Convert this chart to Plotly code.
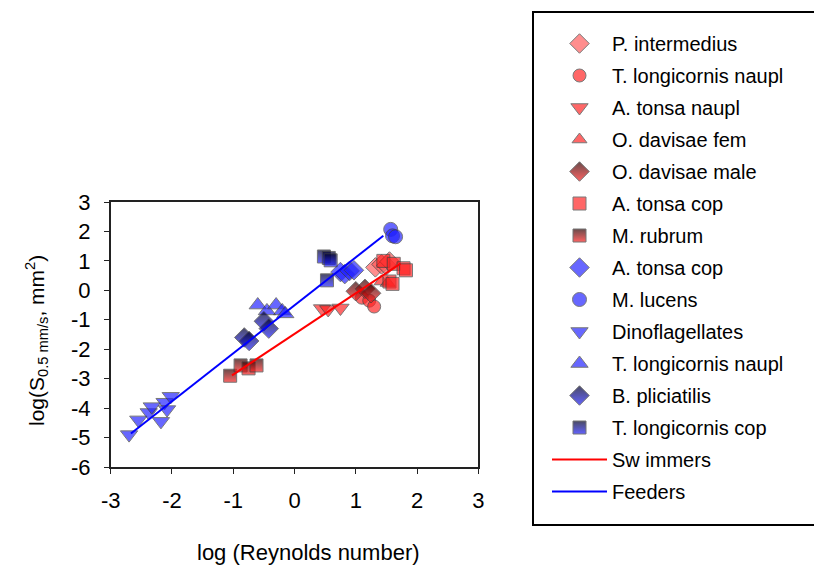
import numpy as np
import plotly.graph_objects as go

# ---- data: log10(Reynolds number) vs log10(S_0.5 mm/s, mm^2) ----
p_intermedius_x = [1.32, 1.42, 1.50, 1.55]
p_intermedius_y = [0.78, 0.88, 0.85, 0.98]

t_long_naupl_red_x = [1.10, 1.22, 1.30]
t_long_naupl_red_y = [-0.25, -0.35, -0.55]

a_tonsa_naupl_x = [0.45, 0.55, 0.75]
a_tonsa_naupl_y = [-0.62, -0.65, -0.60]

o_davisae_fem_x = [1.42, 1.52]
o_davisae_fem_y = [0.30, 0.25]

o_davisae_male_x = [1.00, 1.15, 1.25]
o_davisae_male_y = [-0.03, 0.05, -0.10]

a_tonsa_cop_red_x = [1.45, 1.62, 1.78, 1.82, 1.55, 1.60]
a_tonsa_cop_red_y = [1.00, 0.90, 0.75, 0.68, 0.30, 0.22]

m_rubrum_x = [-1.05, -0.88, -0.75, -0.62]
m_rubrum_y = [-2.90, -2.55, -2.65, -2.55]

a_tonsa_cop_blue_x = [0.75, 0.82, 0.90, 0.97]
a_tonsa_cop_blue_y = [0.62, 0.55, 0.66, 0.68]

m_lucens_x = [1.57, 1.60, 1.65]
m_lucens_y = [2.07, 1.85, 1.82]

dino_x = [-2.70, -2.55, -2.38, -2.33, -2.18, -2.12, -2.02, -2.08]
dino_y = [-4.90, -4.40, -4.15, -3.95, -4.45, -3.80, -3.60, -4.05]

t_long_naupl_blue_x = [-0.60, -0.45, -0.30, -0.20, -0.15]
t_long_naupl_blue_y = [-0.50, -0.70, -0.50, -0.70, -0.80]

b_plic_x = [-0.82, -0.74, -0.50, -0.42]
b_plic_y = [-1.60, -1.72, -1.05, -1.30]

t_long_cop_x = [0.48, 0.56, 0.59, 0.53]
t_long_cop_y = [1.15, 1.10, 1.02, 0.34]

# regression lines: intercept, slope, x extent
swim_a, swim_b = -1.48, 1.38
swim_x = [-1.02, 1.73]
feed_a, feed_b = -0.51, 1.63
feed_x = [-2.67, 1.45]

x_ticks = [-3, -2, -1, 0, 1, 2, 3]
x_tick_text = ["-3", "-2", "-1", "0", "1", "2", "3"]
y_ticks = [3, 2, 1, 0, -1, -2, -3, -4, -5, -6]
y_tick_text = ["3", "2", "1", "0", "-1", "-2", "-3", "-4", "-5", "-6"]

RED = "#ff2020"
BLUE = "#2020ff"
DARK_RED = "#2a0000"
DARK_BLUE = "#000022"
EDGE = "#3a3a3a"
FONT = "Arial, Liberation Sans, sans-serif"

W, H = 814, 566

fig = go.Figure()


def add_pts(name, xs, ys, symbol, color, size=14, top=None):
    # two-tone symbols: dark on top fading into the series colour at the bottom
    if top is not None:
        marker = dict(symbol=symbol, size=size, color=top, opacity=0.7,
                      line=dict(color=EDGE, width=1),
                      gradient=dict(type="vertical", color=color))
    else:
        marker = dict(symbol=symbol, size=size, color=color, opacity=0.68,
                      line=dict(color=EDGE, width=1))
    fig.add_trace(go.Scatter(x=xs, y=ys, mode="markers", name=name,
                             legendgroup=name + symbol, marker=marker))


add_pts("P. intermedius", p_intermedius_x, p_intermedius_y, "diamond", "#ff5a5a", 15)
add_pts("T. longicornis naupl", t_long_naupl_red_x, t_long_naupl_red_y, "circle", RED, 13)
add_pts("A. tonsa naupl", a_tonsa_naupl_x, a_tonsa_naupl_y, "triangle-down", RED, 15)
add_pts("O. davisae fem", o_davisae_fem_x, o_davisae_fem_y, "triangle-up", RED, 13)
add_pts("O. davisae male", o_davisae_male_x, o_davisae_male_y, "diamond", RED, 15, DARK_RED)
add_pts("A. tonsa cop", a_tonsa_cop_red_x, a_tonsa_cop_red_y, "square", RED, 13)
add_pts("M. rubrum", m_rubrum_x, m_rubrum_y, "square", RED, 13, DARK_RED)
add_pts("A. tonsa cop", a_tonsa_cop_blue_x, a_tonsa_cop_blue_y, "diamond", BLUE, 15)
add_pts("M. lucens", m_lucens_x, m_lucens_y, "circle", BLUE, 14)
add_pts("Dinoflagellates", dino_x, dino_y, "triangle-down", BLUE, 15)
add_pts("T. longicornis naupl", t_long_naupl_blue_x, t_long_naupl_blue_y, "triangle-up", BLUE, 15)
add_pts("B. pliciatilis", b_plic_x, b_plic_y, "diamond", BLUE, 15, DARK_BLUE)
add_pts("T. longicornis cop", t_long_cop_x, t_long_cop_y, "square", BLUE, 13, DARK_BLUE)

sx = np.array(swim_x)
fx = np.array(feed_x)
fig.add_trace(go.Scatter(x=sx, y=swim_a + swim_b * sx, mode="lines", name="Sw immers",
                         legendgroup="swim", line=dict(color="#ff0000", width=2)))
fig.add_trace(go.Scatter(x=fx, y=feed_a + feed_b * fx, mode="lines", name="Feeders",
                         legendgroup="feed", line=dict(color="#0000ff", width=2)))

axis_common = dict(showgrid=False, zeroline=False, showline=True, mirror=True,
                   linecolor="#222222", linewidth=1.5, ticks="outside", ticklen=5,
                   tickwidth=1, tickcolor="#222222", automargin=False,
                   tickfont=dict(family=FONT, size=22, color="black"))


def px_x(p):
    return p / W


def px_y(p):
    return (H - p) / H


fig.update_layout(
    width=W, height=H,
    margin=dict(l=0, r=0, t=0, b=0),
    paper_bgcolor="white", plot_bgcolor="white",
    xaxis=dict(range=[-3, 3], tickvals=x_ticks, ticktext=x_tick_text,
               domain=[px_x(110.7), px_x(478.3)], ticklabelstandoff=8, **axis_common),
    yaxis=dict(range=[-6, 3], tickvals=y_ticks, ticktext=y_tick_text,
               domain=[px_y(467), px_y(202)], ticklabelstandoff=9, **axis_common),
    legend=dict(x=px_x(547), y=px_y(24), xanchor="left", yanchor="top",
                bgcolor="rgba(0,0,0,0)", borderwidth=0,
                font=dict(family=FONT, size=20, color="black"),
                tracegroupgap=3, itemwidth=55, traceorder="grouped"),
    showlegend=True,
    shapes=[dict(type="rect", xref="paper", yref="paper",
                 x0=px_x(533), x1=px_x(840), y0=px_y(525), y1=px_y(12),
                 line=dict(color="black", width=2), fillcolor="rgba(0,0,0,0)")],
    annotations=[
        dict(text="log (Reynolds number)", xref="paper", yref="paper",
             x=px_x(308), y=px_y(552), xanchor="center", yanchor="middle", showarrow=False,
             font=dict(family=FONT, size=22, color="black")),
        dict(text="log(S<sub>0.5 mm/s</sub>, mm<sup>2</sup>)", xref="paper", yref="paper",
             x=px_x(36), y=px_y(341), xanchor="center", yanchor="middle", showarrow=False,
             textangle=-90, font=dict(family=FONT, size=21, color="black")),
    ],
)

fig.write_html("out.html")
